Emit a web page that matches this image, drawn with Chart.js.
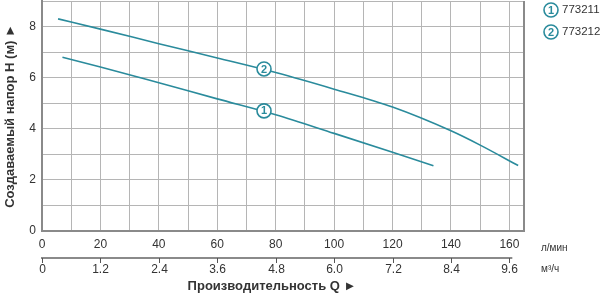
<!DOCTYPE html>
<html lang="ru">
<head>
  <meta charset="UTF-8" />
  <title>Напорная характеристика</title>
  <script src="https://cdn.jsdelivr.net/npm/chart.js"></script>
  <style>
    html, body {
      margin: 0;
      padding: 0;
      background: #fff;
    }
    #wrap {
      width: 600px;
      height: 293px;
      position: relative;
    }
  </style>
</head>
<body>
<div id="wrap"><canvas id="pumpChart" width="600" height="293"></canvas></div>

<script>
  // flow in l/min, head in m
  const flow1 = [7, 20, 40, 60, 80, 100, 120, 134];
  const head1 = [6.8, 6.42, 5.8, 5.17, 4.55, 3.82, 3.08, 2.55];
  const flow2 = [5.5, 20, 40, 60, 80, 100, 120, 140, 150, 163];
  const head2 = [8.3, 7.9, 7.33, 6.77, 6.2, 5.55, 4.85, 3.92, 3.36, 2.56];

  const models = ['773211', '773212'];
  const markerFlow = [76, 76];
  const markerHead = [4.7, 6.34];

  const m3hTicks = ['0', '1.2', '2.4', '3.6', '4.8', '6.0', '7.2', '8.4', '9.6'];

  const teal = '#2a8b9c';
  const font = "'Liberation Sans', Arial, sans-serif";

  function toPoints(xs, ys) {
    return xs.map((x, i) => ({x: x, y: ys[i]}));
  }

  // extra bits: frame, circled curve numbers, legend, m3/h axis, unit labels
  const extras = {
    id: 'extras',
    beforeDatasetsDraw(chart) {
      const c = chart.ctx;
      const a = chart.chartArea;
      c.save();
      c.strokeStyle = '#8a8a8a';
      c.lineWidth = 2;
      c.beginPath();
      c.moveTo(a.right, a.top);
      c.lineTo(a.right, a.bottom);
      c.stroke();
      c.restore();
    },
    afterDatasetsDraw(chart) {
      const c = chart.ctx;
      const xs = chart.scales.x;
      const ys = chart.scales.y;

      function badge(x, y, n) {
        c.save();
        c.beginPath();
        c.arc(x, y, 7, 0, Math.PI * 2);
        c.fillStyle = '#fff';
        c.fill();
        c.lineWidth = 1.6;
        c.strokeStyle = teal;
        c.stroke();
        c.fillStyle = teal;
        c.font = 'bold 11px ' + font;
        c.textAlign = 'center';
        c.textBaseline = 'middle';
        c.fillText(n, x, y + 0.5);
        c.restore();
      }

      for (let i = 0; i < models.length; i++) {
        badge(xs.getPixelForValue(markerFlow[i]), ys.getPixelForValue(markerHead[i]), String(i + 1));
        badge(551, 10 + i * 22, String(i + 1));
        c.save();
        c.fillStyle = '#333';
        c.font = '11.5px ' + font;
        c.textBaseline = 'middle';
        c.fillText(models[i], 562, 10 + i * 22);
        c.restore();
      }

      // second axis in m3/h (1.2 m3/h = 20 l/min)
      const axisY = 258;
      c.save();
      c.strokeStyle = '#8a8a8a';
      c.lineWidth = 2;
      c.beginPath();
      c.moveTo(xs.getPixelForValue(0) - 1, axisY);
      c.lineTo(xs.getPixelForValue(161), axisY);
      c.stroke();
      c.lineWidth = 1;
      c.strokeStyle = '#555';
      c.fillStyle = '#333';
      c.font = '12px ' + font;
      c.textAlign = 'center';
      c.textBaseline = 'middle';
      m3hTicks.forEach((t, i) => {
        const px = Math.round(xs.getPixelForValue(i * 20)) + 0.5;
        c.beginPath();
        c.moveTo(px, axisY);
        c.lineTo(px, axisY + 5);
        c.stroke();
        c.fillText(t, px, axisY + 12);
      });

      c.textAlign = 'left';
      c.font = '10px ' + font;
      c.fillText('л/мин', 541, 248);
      c.fillText('м³/ч', 541, 269);

      c.font = 'bold 13px ' + font;
      c.textAlign = 'center';
      c.fillText('Производительность Q ►', 272, 286);
      c.restore();
    }
  };

  const ctx = document.getElementById('pumpChart').getContext('2d');
  const chart = new Chart(ctx, {
    type: 'scatter',
    data: {
      datasets: [
        {
          label: models[0],
          data: toPoints(flow1, head1),
          showLine: true,
          borderColor: teal,
          borderWidth: 1.6,
          pointRadius: 0,
          cubicInterpolationMode: 'monotone'
        },
        {
          label: models[1],
          data: toPoints(flow2, head2),
          showLine: true,
          borderColor: teal,
          borderWidth: 1.6,
          pointRadius: 0,
          cubicInterpolationMode: 'monotone'
        }
      ]
    },
    options: {
      responsive: false,
      animation: false,
      layout: {
        padding: {top: 1, right: 76, left: 0, bottom: 0}
      },
      plugins: {
        legend: {display: false},
        tooltip: {enabled: false}
      },
      scales: {
        x: {
          type: 'linear',
          min: 0,
          max: 165,
          afterBuildTicks: s => {
            s.ticks = [];
            for (let v = 0; v <= 160; v += 10) s.ticks.push({value: v});
          },
          afterFit: s => { s.height = 62; s.paddingLeft = 0; s.paddingRight = 0; },
          grid: {
            color: '#b5b5b5',
            lineWidth: 1,
            drawTicks: false
          },
          border: {color: '#8a8a8a', width: 2},
          ticks: {
            color: '#333',
            font: {family: font, size: 12},
            padding: 6,
            maxRotation: 0,
            autoSkip: false,
            callback: v => (v % 20 === 0 ? v : '')
          }
        },
        y: {
          min: 0,
          max: 9,
          afterFit: s => { s.width = 42; s.paddingTop = 0; s.paddingBottom = 0; },
          grid: {
            color: '#b5b5b5',
            lineWidth: 1,
            drawTicks: false
          },
          border: {color: '#8a8a8a', width: 2},
          ticks: {
            stepSize: 1,
            color: '#333',
            font: {family: font, size: 12},
            padding: 6,
            callback: v => (v % 2 === 0 ? v : '')
          },
          title: {
            display: true,
            text: 'Создаваемый напор H (м) ►',
            color: '#333',
            font: {family: font, size: 13, weight: 'bold'},
            padding: {top: 3, bottom: 4}
          }
        }
      }
    },
    plugins: [extras]
  });
</script>
</body>
</html>
